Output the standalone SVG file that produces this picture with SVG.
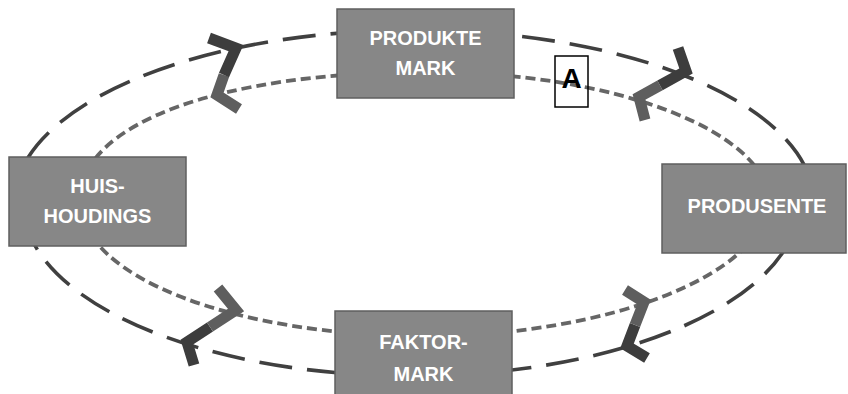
<svg xmlns="http://www.w3.org/2000/svg" width="848" height="394" viewBox="0 0 848 394">
  <style>
    .outer { fill: none; stroke: #404040; stroke-width: 3.6; stroke-dasharray: 33 15; }
    .inner { fill: none; stroke: #666666; stroke-width: 3.8; stroke-dasharray: 10 5; }
    .chevD { fill: none; stroke: #3d3d3d; stroke-width: 11; stroke-linejoin: miter; stroke-linecap: butt; }
    .chevG { fill: none; stroke: #5e5e5e; stroke-width: 11; stroke-linejoin: miter; stroke-linecap: butt; }
    .box { fill: #878787; stroke: #5f5f5f; stroke-width: 1.5; }
    .lbl { font-family: "Liberation Sans", Arial, sans-serif; font-size: 20px; font-weight: bold; fill: #ffffff; text-anchor: middle; }
    .tag { font-family: "Liberation Sans", Arial, sans-serif; font-size: 28px; font-weight: bold; fill: #000000; text-anchor: middle; }
  </style>
  <rect x="0" y="0" width="848" height="394" fill="#ffffff"/>
  <g id="connectors">
    <path class="outer" d="M 14 203 A 400 173 0 0 1 814 203"/>
    <path class="outer" d="M 799 203 A 388 173 0 0 1 23 203"/>
    <path class="inner" d="M 80 200 C 80 123 222 72 427 72 C 616 72 770 132 770 205"/>
    <path class="inner" d="M 765 205 C 765 272 612 336 425 336 C 237 336 80 278 80 200"/>
    <g id="arrows-top-left">
      <polyline class="chevG" points="224,75 217,95 239,109"/>
      <polyline class="chevD" points="209,38 236,48 224,75"/>
    </g>
    <g id="arrows-top-right">
      <polyline class="chevG" points="660,85.4 639,97 645,120"/>
      <polyline class="chevD" points="678,48 686,71 660,85.4"/>
    </g>
    <g id="arrows-bottom-left">
      <polyline class="chevD" points="210,327 187,342 194,365"/>
      <polyline class="chevG" points="218,288 236,310 210,327"/>
    </g>
    <g id="arrows-bottom-right">
      <polyline class="chevD" points="635,325 627,346 647,358"/>
      <polyline class="chevG" points="625,290 644,302 635,325"/>
    </g>
  </g>
  <g id="produktemark">
    <rect class="box" x="337" y="9" width="177" height="89"/>
    <text class="lbl" x="425.5" y="45">PRODUKTE</text>
    <text class="lbl" x="425.5" y="75">MARK</text>
  </g>
  <g id="huishoudings">
    <rect class="box" x="9" y="157" width="177" height="89"/>
    <text class="lbl" x="97.5" y="193">HUIS-</text>
    <text class="lbl" x="97.5" y="223">HOUDINGS</text>
  </g>
  <g id="produsente">
    <rect class="box" x="662" y="164" width="184" height="89"/>
    <text class="lbl" x="757" y="213">PRODUSENTE</text>
  </g>
  <g id="faktormark">
    <rect class="box" x="335" y="311" width="177" height="90"/>
    <text class="lbl" x="423.5" y="349">FAKTOR-</text>
    <text class="lbl" x="423.5" y="381">MARK</text>
  </g>
  <g id="label-a">
    <rect x="555" y="56" width="33" height="51" fill="none" stroke="#000000" stroke-width="1.5"/>
    <text class="tag" x="571.5" y="88">A</text>
  </g>
</svg>
